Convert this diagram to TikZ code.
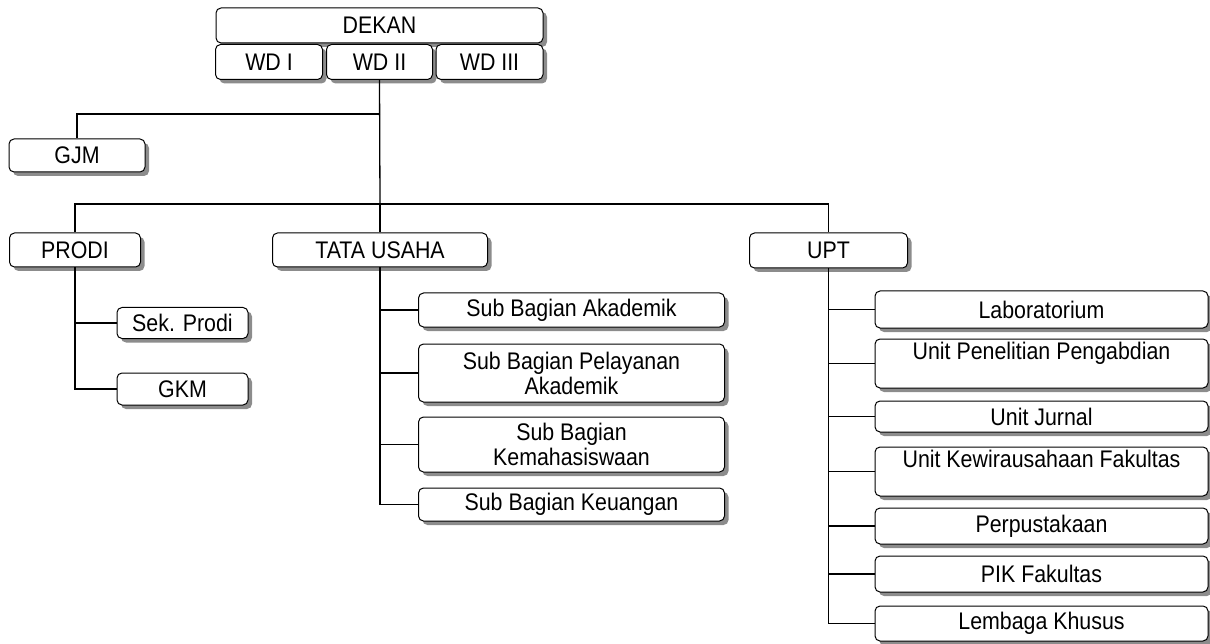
\documentclass[tikz,border=0pt]{standalone}
\usepackage{fontspec}
\setmainfont{Liberation Sans}[FakeStretch=0.89]
\usetikzlibrary{shadows}

\begin{document}
\begin{tikzpicture}[x=1pt, y=-1pt,
	unit/.style = {rectangle, draw, rounded corners = 5pt, fill = white, line width = 1pt,
		inner sep = 0pt, align = center,
		font = \fontsize{24}{25}\selectfont,
		drop shadow = {shadow xshift = 4pt, shadow yshift = -4pt, fill = black!45, opacity = 1}},
	link/.style = {line width = 1.3pt}]
\useasboundingbox (0,0) rectangle (1210,644);
% pimpinan
\node[unit, minimum width = 327pt, minimum height = 35pt] (dekan) at (379.5,25.5) {DEKAN};
\node[unit, minimum width = 107pt, minimum height = 35pt] (wd1) at (269,62) {WD I};
\node[unit, minimum width = 106pt, minimum height = 35pt] (wd2) at (379.5,62) {WD II};
\node[unit, minimum width = 107pt, minimum height = 35pt] (wd3) at (489.5,62) {WD III};
\node[unit, minimum width = 136pt, minimum height = 33pt] (gjm) at (77,155.5) {GJM};
% bagian
\node[unit, minimum width = 131pt, minimum height = 34pt] (prodi) at (75,250) {PRODI};
\node[unit, minimum width = 215pt, minimum height = 34pt] (tu) at (380,250) {TATA USAHA};
\node[unit, minimum width = 158pt, minimum height = 35pt] (upt) at (828.5,250.5) {UPT};
% prodi
\node[unit, minimum width = 131pt, minimum height = 31pt] (sek) at (182.5,323) {Sek. Prodi};
\node[unit, minimum width = 131pt, minimum height = 32pt] (gkm) at (182.5,389) {GKM};
% tata usaha
\node[unit, minimum width = 306pt, minimum height = 34pt] (sba) at (571.5,310) {Sub Bagian Akademik};
\node[unit, minimum width = 306pt, minimum height = 58pt] (sbp) at (571.5,373) {Sub Bagian Pelayanan\\Akademik};
\node[unit, minimum width = 306pt, minimum height = 55pt] (sbk) at (571.5,444.5) {Sub Bagian\\Kemahasiswaan};
\node[unit, minimum width = 306pt, minimum height = 33pt] (sbu) at (571.5,504.5) {Sub Bagian Keuangan};
% upt
\node[unit, minimum width = 333pt, minimum height = 37pt] (lab) at (1041.5,309.5) {Laboratorium};
\node[unit, minimum width = 333pt, minimum height = 49pt] (upp) at (1041.5,363.5) {Unit Penelitian Pengabdian\\\mbox{}};
\node[unit, minimum width = 333pt, minimum height = 31pt] (uj) at (1041.5,416.5) {Unit Jurnal};
\node[unit, minimum width = 333pt, minimum height = 49pt] (uk) at (1041.5,471.5) {Unit Kewirausahaan Fakultas\\\mbox{}};
\node[unit, minimum width = 333pt, minimum height = 36pt] (perp) at (1041.5,526) {Perpustakaan};
\node[unit, minimum width = 333pt, minimum height = 36pt] (pik) at (1041.5,574) {PIK Fakultas};
\node[unit, minimum width = 333pt, minimum height = 35pt] (lk) at (1041.5,623.5) {Lembaga Khusus};
% garis
\coordinate (gj) at (380,114);
\coordinate (hub) at (380,204);
\draw[link] (wd2.south) -- (hub);
\draw[link] (gj) -| (gjm.north);
\draw[link] (hub) -| (prodi.north);
\draw[link] (hub) -- (tu.north);
\draw[link] (hub) -| (upt.north);
\foreach \c in {sek, gkm}
	\draw[link] (prodi.south) |- (\c.west);
\foreach \c in {sba, sbp, sbk, sbu}
	\draw[link] (tu.south) |- (\c.west);
\foreach \c in {lab, upp, uj, uk, perp, pik, lk}
	\draw[link] (upt.south) |- (\c.west);
\end{tikzpicture}
\end{document}
